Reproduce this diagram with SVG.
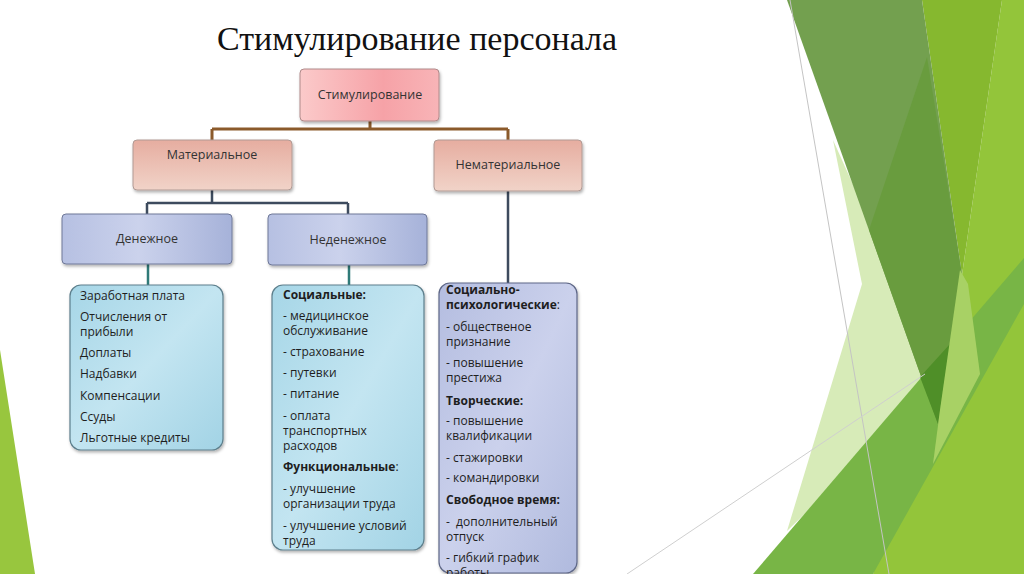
<svg xmlns="http://www.w3.org/2000/svg" width="1024" height="574" viewBox="0 0 1024 574">
<defs>
<linearGradient id="gPink" x1="0" y1="0" x2="1" y2="0">
<stop offset="0" stop-color="#fbcaca"/><stop offset="0.6" stop-color="#f6a2a7"/><stop offset="1" stop-color="#f8b4b7"/>
</linearGradient>
<linearGradient id="gSalmon" x1="0" y1="0" x2="0" y2="1">
<stop offset="0" stop-color="#e6ada0"/><stop offset="1" stop-color="#f1d3c8"/>
</linearGradient>
<linearGradient id="gBlue" x1="0" y1="0" x2="1" y2="0">
<stop offset="0" stop-color="#b6c0e2"/><stop offset="0.45" stop-color="#cbd2ec"/><stop offset="1" stop-color="#a6b2d9"/>
</linearGradient>
<linearGradient id="gCyan" x1="0" y1="0" x2="1" y2="1">
<stop offset="0" stop-color="#a6d6e7"/><stop offset="0.5" stop-color="#c3e5f1"/><stop offset="1" stop-color="#a2d3e5"/>
</linearGradient>
<linearGradient id="gLav" x1="0" y1="0" x2="1" y2="1">
<stop offset="0" stop-color="#b4bde0"/><stop offset="0.5" stop-color="#cbd1ec"/><stop offset="1" stop-color="#b0bade"/>
</linearGradient>
<filter id="sh" x="-10%" y="-10%" width="130%" height="130%">
<feDropShadow dx="1" dy="2" stdDeviation="1.5" flood-color="#000" flood-opacity="0.3"/>
</filter>
</defs>
<style>
.title{font-family:"Liberation Serif","Times New Roman",serif;font-size:34px;fill:#111}
.lbl{font-family:"Open Sans","Noto Sans",sans-serif;font-size:12.5px;fill:#333;text-anchor:middle}
.t{font-family:"Open Sans","Noto Sans",sans-serif;font-size:12px;fill:#1e1e1e}
.b{font-weight:bold}
.pk{fill:url(#gPink);stroke:#b08a8a;stroke-width:1;filter:url(#sh)}
.sa{fill:url(#gSalmon);stroke:#b09a94;stroke-width:1;filter:url(#sh)}
.bl{fill:url(#gBlue);stroke:#6e7898;stroke-width:1;filter:url(#sh)}
.cy{fill:url(#gCyan);stroke:#5d7f8c;stroke-width:1.2;filter:url(#sh)}
.lv{fill:url(#gLav);stroke:#5e6787;stroke-width:1.2;filter:url(#sh)}
.cb{fill:none;stroke:#8b5a2b;stroke-width:3}
.cs{fill:none;stroke:#3d4b5e;stroke-width:2.5}
.ct{fill:none;stroke:#2f7a78;stroke-width:2.5}
</style>
<rect width="1024" height="574" fill="#ffffff"/>
<g id="decoration">
<polygon points="0,350 35,574 0,574" fill="#98c63e"/>
<polygon points="1002,0 1024,0 1024,574 873,574 962,275" fill="#93c53a"/>
<polygon points="922,0 1002,0 962,275" fill="#86b82f"/>
<polygon points="833,140 862,284 787,531 850,470 938,424 905,300" fill="#d7ebb8"/>
<polygon points="753,574 873,574 1024,304 1024,258 950,344" fill="#78b546"/>
<polygon points="787,0 922,0 962,275 938,424" fill="#73a04f"/>
<polygon points="927,57 962,275 938,424 869,230" fill="#699c3e"/>
<polygon points="920,377 950,344 938,424" fill="#4f8f28"/>
<polygon points="960,270 968,284 980,374 933,464 940,410" fill="#a8d165"/>
<line x1="790" y1="0" x2="889" y2="574" stroke="#c4c4c4" stroke-width="1"/>
<line x1="627" y1="574" x2="925" y2="374" stroke="#cfcfcf" stroke-width="1"/>
</g>
<text class="title" x="217" y="50">Стимулирование персонала</text>
<g id="connectors">
<path class="cb" d="M370,121 V129 M212,129 H508 M212,129 V140 M508,129 V140"/>
<path class="cs" d="M212,190 V203 M147,203 H348 M147,203 V214 M348,203 V214"/>
<path class="cs" d="M508,191 V283"/>
<path class="ct" d="M148,264 V285 M349,265 V285"/>
</g>
<g id="n-stim">
<rect class="pk" x="300" y="69" width="139" height="52" rx="4"/>
<text class="lbl" x="370" y="99">Стимулирование</text>
</g>
<g id="n-mat">
<rect class="sa" x="133" y="140" width="159" height="50" rx="4"/>
<text class="lbl" x="212" y="159">Материальное</text>
</g>
<g id="n-nemat">
<rect class="sa" x="434" y="140" width="148" height="51" rx="4"/>
<text class="lbl" x="508" y="169">Нематериальное</text>
</g>
<g id="n-den">
<rect class="bl" x="62" y="214" width="170" height="50" rx="4"/>
<text class="lbl" x="147" y="243">Денежное</text>
</g>
<g id="n-neden">
<rect class="bl" x="268" y="214" width="159" height="51" rx="4"/>
<text class="lbl" x="348" y="244">Неденежное</text>
</g>
<g id="list-den">
<rect class="cy" x="70" y="285" width="153" height="165" rx="11"/>
<text class="t" x="80" y="300">Заработная плата</text>
<text class="t" x="80" y="321">Отчисления от</text>
<text class="t" x="80" y="336">прибыли</text>
<text class="t" x="80" y="357">Доплаты</text>
<text class="t" x="80" y="378">Надбавки</text>
<text class="t" x="80" y="400">Компенсации</text>
<text class="t" x="80" y="421">Ссуды</text>
<text class="t" x="80" y="442">Льготные кредиты</text>
</g>
<g id="list-neden">
<rect class="cy" x="272" y="285" width="152" height="265" rx="11"/>
<text class="t b" x="283" y="299">Социальные:</text>
<text class="t" x="283" y="320">- медицинское</text>
<text class="t" x="283" y="335">обслуживание</text>
<text class="t" x="283" y="356">- страхование</text>
<text class="t" x="283" y="377">- путевки</text>
<text class="t" x="283" y="398">- питание</text>
<text class="t" x="283" y="420">- оплата</text>
<text class="t" x="283" y="435">транспортных</text>
<text class="t" x="283" y="450">расходов</text>
<text class="t" x="283" y="471"><tspan class="b">Функциональные</tspan>:</text>
<text class="t" x="283" y="493">- улучшение</text>
<text class="t" x="283" y="508">организации труда</text>
<text class="t" x="283" y="530">- улучшение условий</text>
<text class="t" x="283" y="545">труда</text>
</g>
<g id="list-nemat">
<rect class="lv" x="439" y="283" width="138" height="290" rx="11"/>
<text class="t b" x="446" y="294">Социально-</text>
<text class="t" x="446" y="309"><tspan class="b">психологические</tspan>:</text>
<text class="t" x="446" y="331">- общественое</text>
<text class="t" x="446" y="346">признание</text>
<text class="t" x="446" y="367">- повышение</text>
<text class="t" x="446" y="382">престижа</text>
<text class="t b" x="446" y="405">Творческие:</text>
<text class="t" x="446" y="425">- повышение</text>
<text class="t" x="446" y="440">квалификации</text>
<text class="t" x="446" y="462">- стажировки</text>
<text class="t" x="446" y="482">- командировки</text>
<text class="t b" x="446" y="504">Свободное время:</text>
<text class="t" x="446" y="526" xml:space="preserve">-  дополнительный</text>
<text class="t" x="446" y="541">отпуск</text>
<text class="t" x="446" y="562">- гибкий график</text>
<text class="t" x="446" y="577">работы</text>
</g>
</svg>
